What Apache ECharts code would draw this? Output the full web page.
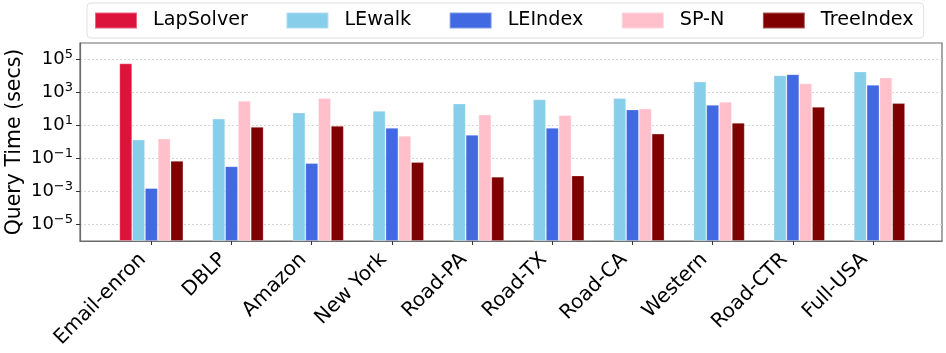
<!DOCTYPE html>
<html>
<head>
<meta charset="utf-8">
<script src="https://cdn.jsdelivr.net/npm/echarts@6/dist/echarts.min.js"></script>
<style>
  html, body { margin: 0; padding: 0; background: #fff; }
  #chart-container { width: 946px; height: 353px; }
</style>
</head>
<body>
<div id="chart-container"></div>
<script>
var categories = ['Email-enron', 'DBLP', 'Amazon', 'New York', 'Road-PA', 'Road-TX', 'Road-CA', 'Western', 'Road-CTR', 'Full-USA'];
var seriesNames = ['LapSolver', 'LEwalk', 'LEIndex', 'SP-N', 'TreeIndex'];
var colors = ['#DC143C', '#87CEEB', '#4169E1', '#FFC0CB', '#800000'];

// query times in seconds, one value per category (null = not run)
var lapSolver = [58000, null, null, null, null, null, null, null, null, null];
var leWalk    = [1.4, 26, 61, 78, 215, 380, 450, 4500, 11000, 18700];
var leIndex   = [0.0016, 0.034, 0.052, 7.2, 2.7, 7.2, 93, 178, 12800, 2950];
var spN       = [1.6, 316, 450, 2.4, 46, 42, 107, 275, 3550, 8100];
var treeIndex = [0.072, 8.3, 9.5, 0.06, 0.0078, 0.0093, 3.2, 14.5, 135, 225];

var yTicks = [1e-5, 1e-3, 1e-1, 1e1, 1e3, 1e5];
var xTicks = [0, 1, 2, 3, 4, 5, 6, 7, 8, 9];

var allValues = [lapSolver, leWalk, leIndex, spN, treeIndex];

var chartDom = document.getElementById('chart-container');
var myChart = echarts.init(chartDom);
var option;

var supDigits = function(n) {
	return String(n).replace('-', '\u2212');
};

option = {
	animation: false,
	textStyle: { fontFamily: 'DejaVu Sans' },
	legend: {
		top: 3,
		left: 87,
		data: seriesNames,
		icon: 'rect',
		itemWidth: 42,
		itemHeight: 16,
		itemGap: 37.5,
		padding: [8, 10, 8, 7],
		borderColor: '#e0e0e0',
		borderWidth: 1,
		borderRadius: 4,
		textStyle: {
			fontSize: 19.2,
			color: '#000',
			padding: [0, 0, 0, 11]
		}
	},
	grid: {
		left: 80,
		right: 4,
		top: 43,
		bottom: 112,
		containLabel: false,
		outerBoundsMode: 'none',
		show: true,
		borderColor: '#6b6b6b',
		borderWidth: 1.2
	},
	xAxis: {
		type: 'value',
		min: -0.89,
		max: 9.86,
		splitLine: { show: false },
		axisLine: { onZero: false, lineStyle: { color: '#6b6b6b', width: 1.2 } },
		axisTick: { show: true, length: 4, customValues: xTicks, lineStyle: { color: '#333' } },
		axisLabel: {
			customValues: xTicks,
			rotate: 45,
			fontSize: 20,
			color: '#000',
			margin: 7,
			padding: [0, 12, 14, 0],
			formatter: function(v) { return categories[Math.round(v)]; }
		}
	},
	yAxis: {
		type: 'log',
		logBase: 10,
		min: 1e-6,
		max: 1e6,
		startValue: 1e-6,
		name: 'Query Time (secs)',
		nameLocation: 'middle',
		nameGap: 55,
		nameMoveOverlap: false,
		nameTextStyle: { fontSize: 20.5, color: '#000' },
		axisLine: { show: true, onZero: false, lineStyle: { color: '#6b6b6b', width: 1.2 } },
		axisTick: { show: true, length: 4, customValues: yTicks, lineStyle: { color: '#333' } },
		splitLine: { show: true, lineStyle: { color: '#d4d4d4', type: [2, 2], width: 1 } },
		axisLabel: {
			customValues: yTicks,
			margin: 7,
			formatter: function(v) {
				var e = Math.round(Math.log10(v));
				return '{b|10}{s|' + supDigits(e) + '}';
			},
			rich: {
				b: { fontSize: 18, color: '#000' },
				s: { fontSize: 13, color: '#000', padding: [0, 0, 9, 0] }
			}
		}
	},
	series: seriesNames.map(function(name, i) {
		var pts = [];
		allValues[i].forEach(function(v, j) {
			if (v !== null) pts.push([j, v]);
		});
		return {
			name: name,
			type: 'bar',
			data: pts,
			barWidth: 12.8,
			barGap: '0%',
			itemStyle: { color: colors[i], borderColor: 'rgba(255,255,255,0.35)', borderWidth: 0.8 }
		};
	})
};

myChart.setOption(option);

window.addEventListener('resize', function() {
	myChart.resize();
});
</script>
</body>
</html>
